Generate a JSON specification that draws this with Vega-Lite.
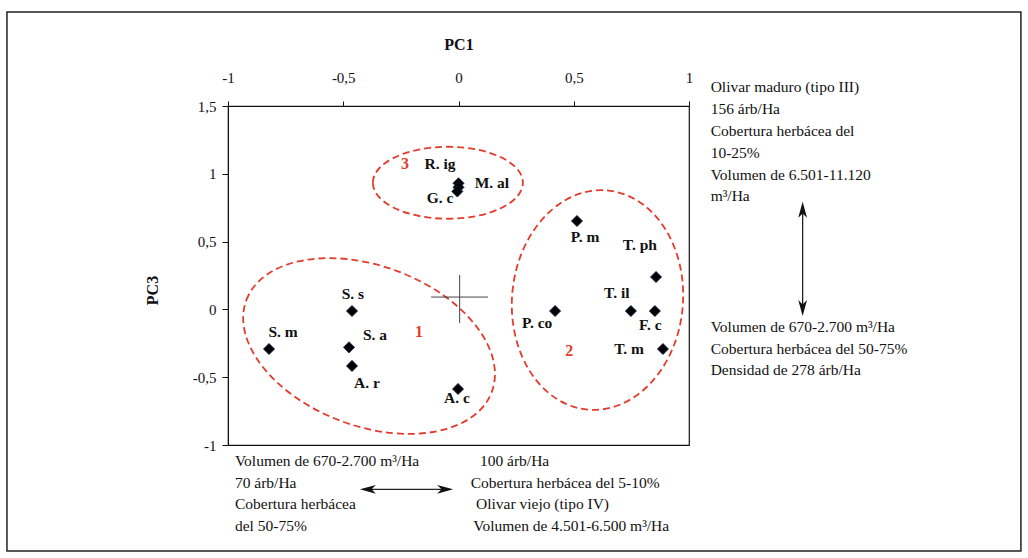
{
  "$schema": "https://vega.github.io/schema/vega-lite/v6.json",
  "width": 461,
  "height": 339,
  "autosize": {"type": "none"},
  "padding": {"left": 228, "top": 106, "right": 339, "bottom": 113},
  "background": "white",
  "config": {
    "view": {"stroke": "#111", "strokeWidth": 1.2},
    "font": "Liberation Serif",
    "text": {"font": "Liberation Serif"}
  },
  "datasets": {
    "pts": [
      {"sp": "R. ig", "pc1": 0.0, "pc3": 0.93, "lx": -0.08, "ly": 1.072},
      {"sp": "M. al", "pc1": 0.0, "pc3": 0.9, "lx": 0.145, "ly": 0.932},
      {"sp": "G. c", "pc1": -0.005, "pc3": 0.87, "lx": -0.08, "ly": 0.822},
      {"sp": "P. m", "pc1": 0.514, "pc3": 0.652, "lx": 0.549, "ly": 0.534},
      {"sp": "T. ph", "pc1": 0.857, "pc3": 0.239, "lx": 0.787, "ly": 0.472},
      {"sp": "S. s", "pc1": -0.462, "pc3": -0.012, "lx": -0.458, "ly": 0.113},
      {"sp": "S. m", "pc1": -0.822, "pc3": -0.292, "lx": -0.761, "ly": -0.167},
      {"sp": "S. a", "pc1": -0.475, "pc3": -0.28, "lx": -0.362, "ly": -0.188},
      {"sp": "A. r", "pc1": -0.462, "pc3": -0.417, "lx": -0.397, "ly": -0.542},
      {"sp": "A. c", "pc1": -0.002, "pc3": -0.587, "lx": -0.007, "ly": -0.652},
      {"sp": "P. co", "pc1": 0.419, "pc3": -0.012, "lx": 0.341, "ly": -0.1},
      {"sp": "T. il", "pc1": 0.748, "pc3": -0.012, "lx": 0.687, "ly": 0.124},
      {"sp": "F. c", "pc1": 0.852, "pc3": -0.012, "lx": 0.832, "ly": -0.114},
      {"sp": "T. m", "pc1": 0.887, "pc3": -0.292, "lx": 0.74, "ly": -0.292}
    ],
    "groups": [
      {"g": "3", "x": -0.232, "y": 1.072},
      {"g": "1", "x": -0.171, "y": -0.167},
      {"g": "2", "x": 0.48, "y": -0.306}
    ],
    "notes": [
      {"t": "Olivar maduro (tipo III)", "x": 1.094, "y": 1.638},
      {"t": "156 árb/Ha", "x": 1.094, "y": 1.477},
      {"t": "Cobertura herbácea del", "x": 1.094, "y": 1.316},
      {"t": "10-25%", "x": 1.094, "y": 1.155},
      {"t": "Volumen de 6.501-11.120", "x": 1.094, "y": 0.994},
      {"t": "m³/Ha", "x": 1.094, "y": 0.833},
      {"t": "Volumen de 670-2.700 m³/Ha", "x": 1.094, "y": -0.132},
      {"t": "Cobertura herbácea del 50-75%", "x": 1.094, "y": -0.29},
      {"t": "Densidad de 278 árb/Ha", "x": 1.094, "y": -0.447},
      {"t": "Volumen de 670-2.700 m³/Ha", "x": -0.97, "y": -1.118},
      {"t": "70 árb/Ha", "x": -0.97, "y": -1.277},
      {"t": "Cobertura herbácea", "x": -0.97, "y": -1.435},
      {"t": "del 50-75%", "x": -0.97, "y": -1.594},
      {"t": "100 árb/Ha", "x": 0.093, "y": -1.118},
      {"t": "Cobertura herbácea del 5-10%", "x": 0.053, "y": -1.277},
      {"t": "Olivar viejo (tipo IV)", "x": 0.076, "y": -1.435},
      {"t": "Volumen de 4.501-6.500 m³/Ha", "x": 0.064, "y": -1.594}
    ]
  },
  "layer": [
    {
      "data": {"values": [{}]},
      "mark": {"type": "rect", "fill": null, "stroke": "#222", "strokeWidth": 1.5},
      "encoding": {
        "x": {"datum": -1.959, "type": "quantitative", "scale": {"domain": [-1, 1], "nice": false, "zero": false},
          "axis": {"orient": "top", "values": [-1, -0.5, 0, 0.5, 1], "title": "PC1", "titleFontWeight": "bold", "titleFontSize": 16, "titleFont": "Liberation Serif", "titleColor": "#111", "titlePadding": 18,
            "labelFont": "Liberation Serif", "labelFontSize": 15, "labelColor": "#111", "labelPadding": 16, "labelFlush": false,
            "labelExpr": "replace('' + datum.value, '.', ',')", "tickSize": 5, "tickColor": "#111", "domainColor": "#111", "grid": false}},
        "x2": {"datum": 2.44},
        "y": {"datum": 2.193, "type": "quantitative", "scale": {"domain": [-1, 1.5], "nice": false, "zero": false},
          "axis": {"orient": "left", "values": [-1, -0.5, 0, 0.5, 1, 1.5], "title": "PC3", "titleFontWeight": "bold", "titleFontSize": 16, "titleFont": "Liberation Serif", "titleColor": "#111", "titlePadding": 32, "titleY": 184,
            "labelFont": "Liberation Serif", "labelFontSize": 15, "labelColor": "#111", "labelPadding": 6, "labelFlush": false,
            "labelExpr": "replace('' + datum.value, '.', ',')", "tickSize": 6, "tickColor": "#111", "domainColor": "#111", "grid": false}},
        "y2": {"datum": -1.782}
      }
    },
    {
      "data": {"values": [{"g": "1", "cx": -0.388, "cy": -0.27}]},
      "mark": {"type": "point", "filled": false, "stroke": "#e33b2c", "strokeWidth": 1.8, "strokeDash": [7, 4], "opacity": 1,
        "shape": "M -1 0 C -1 -0.337 -0.552 -0.611 0 -0.611 C 0.552 -0.611 1 -0.337 1 0 C 1 0.337 0.552 0.611 0 0.611 C -0.552 0.611 -1 0.337 -1 0 Z",
        "size": 68644, "angle": 20.5},
      "encoding": {"x": {"field": "cx", "type": "quantitative"}, "y": {"field": "cy", "type": "quantitative"}}
    },
    {
      "data": {"values": [{"g": "2", "cx": 0.603, "cy": 0.069}]},
      "mark": {"type": "point", "filled": false, "stroke": "#e33b2c", "strokeWidth": 1.8, "strokeDash": [7, 4], "opacity": 1,
        "shape": "M -0.777 0 C -0.777 -0.552 -0.429 -1 0 -1 C 0.429 -1 0.777 -0.552 0.777 0 C 0.777 0.552 0.429 1 0 1 C -0.429 1 -0.777 0.552 -0.777 0 Z",
        "size": 48400, "angle": 5},
      "encoding": {"x": {"field": "cx", "type": "quantitative"}, "y": {"field": "cy", "type": "quantitative"}}
    },
    {
      "data": {"values": [{"g": "3", "cx": -0.046, "cy": 0.934}]},
      "mark": {"type": "point", "filled": false, "stroke": "#e33b2c", "strokeWidth": 1.8, "strokeDash": [7, 4], "opacity": 1,
        "shape": "M -1 0 C -1 -0.265 -0.552 -0.48 0 -0.48 C 0.552 -0.48 1 -0.265 1 0 C 1 0.265 0.552 0.48 0 0.48 C -0.552 0.48 -1 0.265 -1 0 Z",
        "size": 22500},
      "encoding": {"x": {"field": "cx", "type": "quantitative"}, "y": {"field": "cy", "type": "quantitative"}}
    },
    {
      "data": {"values": [{}]},
      "mark": {"type": "rule", "color": "#444", "strokeWidth": 1},
      "encoding": {"x": {"datum": -0.119, "type": "quantitative"}, "x2": {"datum": 0.128}, "y": {"datum": 0.091, "type": "quantitative"}}
    },
    {
      "data": {"values": [{}]},
      "mark": {"type": "rule", "color": "#444", "strokeWidth": 1},
      "encoding": {"x": {"datum": 0.005, "type": "quantitative"}, "y": {"datum": 0.254, "type": "quantitative"}, "y2": {"datum": -0.1}}
    },
    {
      "data": {"name": "pts"},
      "mark": {"type": "point", "shape": "diamond", "filled": true, "fill": "#000", "stroke": "#1c2450", "strokeWidth": 0.8, "size": 125, "opacity": 1},
      "encoding": {"x": {"field": "pc1", "type": "quantitative"}, "y": {"field": "pc3", "type": "quantitative"}}
    },
    {
      "data": {"name": "pts"},
      "mark": {"type": "text", "fontWeight": "bold", "fontSize": 15.5, "color": "#111", "align": "center", "baseline": "middle"},
      "encoding": {"x": {"field": "lx", "type": "quantitative"}, "y": {"field": "ly", "type": "quantitative"}, "text": {"field": "sp"}}
    },
    {
      "data": {"name": "groups"},
      "mark": {"type": "text", "fontWeight": "bold", "fontSize": 16, "color": "#e33b2c", "align": "center", "baseline": "middle"},
      "encoding": {"x": {"field": "x", "type": "quantitative"}, "y": {"field": "y", "type": "quantitative"}, "text": {"field": "g"}}
    },
    {
      "data": {"name": "notes"},
      "mark": {"type": "text", "fontSize": 15.5, "color": "#111", "align": "left", "baseline": "middle"},
      "encoding": {"x": {"field": "x", "type": "quantitative"}, "y": {"field": "y", "type": "quantitative"}, "text": {"field": "t"}}
    },
    {
      "data": {"values": [{}]},
      "mark": {"type": "rule", "color": "#222", "strokeWidth": 1.3},
      "encoding": {"x": {"datum": 1.493, "type": "quantitative"}, "y": {"datum": 0.74, "type": "quantitative"}, "y2": {"datum": 0.0}}
    },
    {
      "data": {"values": [{}]},
      "mark": {"type": "rule", "color": "#222", "strokeWidth": 1.3},
      "encoding": {"x": {"datum": -0.397, "type": "quantitative"}, "x2": {"datum": -0.054}, "y": {"datum": -1.327, "type": "quantitative"}}
    },
    {
      "data": {"values": [{"ax": 1.493, "ay": 0.734, "dir": 0}, {"ax": 1.493, "ay": 0.01, "dir": 180}, {"ax": -0.393, "ay": -1.327, "dir": 270}, {"ax": -0.058, "ay": -1.327, "dir": 90}]},
      "mark": {"type": "point", "filled": true, "fill": "#111", "strokeWidth": 0, "opacity": 1, "size": 256,
        "shape": "M 0 -1 L 0.55 1 L 0 0.45 L -0.55 1 Z"},
      "encoding": {"x": {"field": "ax", "type": "quantitative"}, "y": {"field": "ay", "type": "quantitative"}, "angle": {"field": "dir", "type": "quantitative", "scale": null}}
    }
  ]
}
